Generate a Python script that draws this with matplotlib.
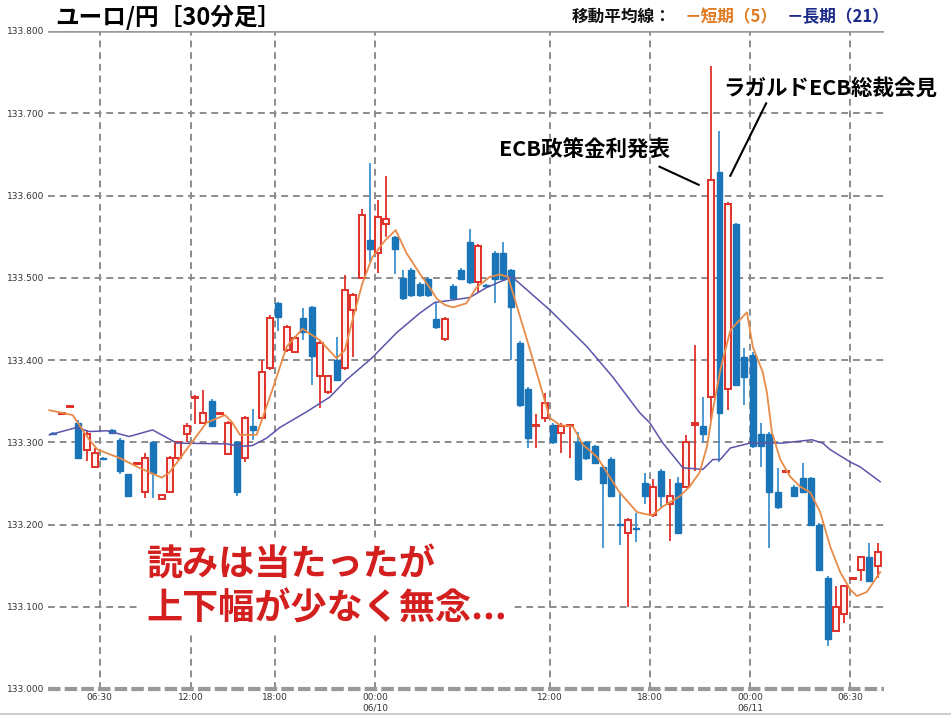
import matplotlib
matplotlib.use('Agg')
import matplotlib.pyplot as plt
from matplotlib.patches import Rectangle

plt.rcParams['font.family'] = ['Noto Sans CJK JP', 'DejaVu Sans']

# EUR/JPY 30-minute candles, oldest first
opens = [133.311, 133.334, 133.343, 133.324, 133.291, 133.270, 133.281, 133.315, 133.303, 133.261,
         133.274, 133.240, 133.300, 133.231, 133.240, 133.281, 133.310, 133.354, 133.324, 133.350,
         133.334, 133.286, 133.300, 133.281, 133.320, 133.330, 133.390, 133.469, 133.412, 133.410,
         133.451, 133.464, 133.380, 133.361, 133.400, 133.390, 133.461, 133.500, 133.546, 133.530,
         133.565, 133.549, 133.500, 133.510, 133.493, 133.499, 133.450, 133.425, 133.490, 133.510,
         133.544, 133.495, 133.491, 133.530, 133.530, 133.509, 133.421, 133.365, 133.320, 133.330,
         133.321, 133.311, 133.320, 133.300, 133.300, 133.295, 133.270, 133.280, 133.201, 133.190,
         133.196, 133.251, 133.211, 133.265, 133.225, 133.250, 133.246, 133.321, 133.320, 133.355,
         133.628, 133.365, 133.565, 133.404, 133.406, 133.310, 133.310, 133.240, 133.264, 133.246,
         133.256, 133.256, 133.200, 133.135, 133.071, 133.091, 133.134, 133.145, 133.160, 133.150]
highs = [133.312, 133.336, 133.345, 133.327, 133.315, 133.293, 133.282, 133.316, 133.305, 133.262,
         133.276, 133.287, 133.301, 133.237, 133.283, 133.302, 133.323, 133.357, 133.364, 133.352,
         133.336, 133.326, 133.302, 133.332, 133.340, 133.400, 133.455, 133.471, 133.442, 133.429,
         133.463, 133.466, 133.423, 133.382, 133.428, 133.503, 133.481, 133.584, 133.639, 133.594,
         133.624, 133.551, 133.509, 133.512, 133.495, 133.501, 133.470, 133.452, 133.492, 133.512,
         133.559, 133.541, 133.492, 133.532, 133.543, 133.511, 133.423, 133.367, 133.334, 133.360,
         133.323, 133.324, 133.322, 133.313, 133.302, 133.297, 133.272, 133.282, 133.239, 133.208,
         133.214, 133.263, 133.255, 133.267, 133.255, 133.258, 133.309, 133.418, 133.355, 133.758,
         133.679, 133.592, 133.567, 133.415, 133.410, 133.323, 133.312, 133.269, 133.266, 133.248,
         133.275, 133.258, 133.202, 133.137, 133.125, 133.127, 133.136, 133.162, 133.178, 133.178]
lows = [133.309, 133.333, 133.343, 133.280, 133.277, 133.269, 133.280, 133.310, 133.262, 133.234,
        133.273, 133.232, 133.232, 133.230, 133.238, 133.279, 133.300, 133.322, 133.322, 133.318,
        133.333, 133.284, 133.235, 133.276, 133.303, 133.328, 133.388, 133.435, 133.410, 133.408,
        133.424, 133.370, 133.342, 133.359, 133.374, 133.388, 133.404, 133.498, 133.519, 133.506,
        133.549, 133.505, 133.473, 133.477, 133.477, 133.477, 133.438, 133.423, 133.473, 133.497,
        133.493, 133.481, 133.489, 133.469, 133.497, 133.400, 133.343, 133.293, 133.293, 133.325,
        133.298, 133.287, 133.281, 133.253, 133.279, 133.273, 133.171, 133.233, 133.175, 133.100,
        133.179, 133.225, 133.209, 133.221, 133.180, 133.188, 133.244, 133.265, 133.300, 133.327,
        133.276, 133.339, 133.368, 133.345, 133.293, 133.270, 133.172, 133.219, 133.263, 133.234,
        133.238, 133.198, 133.143, 133.052, 133.069, 133.080, 133.133, 133.131, 133.130, 133.135]
closes = [133.310, 133.335, 133.344, 133.281, 133.310, 133.287, 133.280, 133.311, 133.265, 133.235,
          133.275, 133.281, 133.263, 133.236, 133.281, 133.300, 133.320, 133.355, 133.335, 133.320,
          133.335, 133.324, 133.240, 133.330, 133.315, 133.385, 133.451, 133.452, 133.440, 133.427,
          133.434, 133.405, 133.421, 133.380, 133.376, 133.485, 133.479, 133.576, 133.535, 133.574,
          133.571, 133.535, 133.475, 133.479, 133.479, 133.479, 133.440, 133.450, 133.475, 133.499,
          133.495, 133.539, 133.490, 133.499, 133.499, 133.465, 133.345, 133.305, 133.321, 133.348,
          133.300, 133.320, 133.321, 133.255, 133.281, 133.275, 133.250, 133.235, 133.200, 133.206,
          133.195, 133.235, 133.246, 133.235, 133.235, 133.190, 133.300, 133.324, 133.310, 133.619,
          133.336, 133.590, 133.370, 133.379, 133.295, 133.295, 133.240, 133.221, 133.265, 133.235,
          133.240, 133.200, 133.145, 133.061, 133.100, 133.125, 133.135, 133.160, 133.131, 133.166]

# moving averages (bar position, price)
ma5_pos = [-0.5, 2.3, 2.9, 4.3, 5.3, 7.9, 10.3, 13.0, 13.9, 15.1, 16.4, 18.4, 20.6, 21.4, 22.4,
           24.4, 26.3, 28.0, 29.9, 32.0, 34.0, 35.0, 35.9, 37.1, 38.3, 39.8, 41.1, 42.4, 44.0,
           45.2, 46.0, 47.0, 48.0, 49.6, 50.8, 52.4, 53.6, 54.6, 55.7, 56.9, 58.4, 59.6, 60.8,
           62.4, 63.6, 65.3, 66.8, 68.0, 70.1, 71.9, 73.2, 75.2, 76.4, 77.6, 78.5, 79.2, 80.1,
           81.3, 82.1, 83.3, 84.0, 85.2, 85.7, 86.3, 87.3, 88.5, 89.7, 90.9, 92.1, 93.3, 94.5,
           95.7, 96.5, 97.7, 99.3]
ma5_val = [133.339, 133.333, 133.324, 133.303, 133.291, 133.281, 133.269, 133.257, 133.263,
           133.279, 133.297, 133.324, 133.333, 133.325, 133.309, 133.309, 133.364, 133.416,
           133.438, 133.424, 133.402, 133.412, 133.448, 133.493, 133.525, 133.545, 133.558,
           133.530, 133.505, 133.488, 133.475, 133.467, 133.464, 133.469, 133.488, 133.501,
           133.504, 133.501, 133.464, 133.424, 133.372, 133.330, 133.321, 133.319, 133.297,
           133.282, 133.258, 133.239, 133.215, 133.211, 133.222, 133.234, 133.246, 133.263,
           133.295, 133.339, 133.388, 133.436, 133.445, 133.458, 133.416, 133.385, 133.360,
           133.312, 133.279, 133.258, 133.246, 133.239, 133.215, 133.173, 133.142, 133.121,
           133.113, 133.118, 133.142]
ma21_pos = [-0.5, 2.8, 4.3, 6.4, 9.1, 11.9, 14.8, 20.8, 22.4, 23.9, 25.6, 27.2, 30.4, 33.2,
            35.2, 38.2, 41.2, 44.0, 45.8, 48.0, 50.0, 52.0, 53.6, 55.1, 56.9, 59.6, 64.1, 67.2,
            70.4, 71.6, 73.2, 75.6, 78.0, 79.2, 80.1, 81.3, 83.7, 86.1, 87.6, 91.1, 92.4, 93.3,
            95.7, 96.9, 99.3]
ma21_val = [133.309, 133.318, 133.313, 133.314, 133.307, 133.315, 133.299, 133.298, 133.295,
            133.296, 133.305, 133.318, 133.337, 133.355, 133.376, 133.402, 133.433, 133.457,
            133.470, 133.473, 133.476, 133.488, 133.495, 133.501, 133.485, 133.461, 133.416,
            133.379, 133.336, 133.324, 133.299, 133.269, 133.267, 133.279, 133.279, 133.293,
            133.299, 133.299, 133.299, 133.303, 133.299, 133.291, 133.276, 133.270, 133.252]

tick_pos = [5.53, 16.55, 26.62, 38.64, 59.62, 71.63, 83.65, 95.67]
tick_labels = ['06:30', '12:00', '18:00', '00:00\n06/10', '12:00', '18:00', '00:00\n06/11', '06:30']
price_ticks = [133.0, 133.1, 133.2, 133.3, 133.4, 133.5, 133.6, 133.7, 133.8]

RED = '#e0302a'
BLUE = '#1a75b8'
BLUE_WICK = '#3b92cf'
GRID = '#8c8c8c'

fig = plt.figure(figsize=(9.51, 7.15), dpi=100)
ax = fig.add_axes([48 / 951, 26 / 715, 836 / 951, 658 / 715])
ax.set_xlim(-0.66, 99.76)
ax.set_ylim(133.0, 133.8)

# grid
for p in price_ticks[1:-1]:
    ax.axhline(p, color=GRID, lw=1.4, ls=(0, (3.5, 2.5)), zorder=1)
for t in tick_pos:
    ax.axvline(t, color=GRID, lw=1.4, ls=(0, (3.5, 2.5)), zorder=1)
ax.axhline(133.8, color='#999999', lw=1.8, zorder=1)
ax.axhline(133.0, color='#999999', lw=3, ls=(0, (3, 1)), zorder=1, clip_on=False)

for s in ax.spines.values():
    s.set_visible(False)

ax.set_xticks(tick_pos, tick_labels)
ax.set_yticks(price_ticks, ['%.3f' % p for p in price_ticks])
ax.tick_params(length=0, labelsize=6.5, colors='#333333', pad=3)
for lab in ax.get_xticklabels() + ax.get_yticklabels():
    lab.set_family('DejaVu Sans')

# candles
w = 0.72
for i in range(len(opens)):
    o, h, l, c = opens[i], highs[i], lows[i], closes[i]
    up = c >= o
    b0, b1 = min(o, c), max(o, c)
    hgt = max(b1 - b0, 0.0012)
    if up:
        ax.vlines(i, l, h, color=RED, lw=1.3, zorder=2)
        ax.add_patch(Rectangle((i - w / 2, b0), w, hgt, facecolor='#fff3f3',
                               edgecolor=RED, lw=1.4, zorder=3))
    else:
        ax.vlines(i, l, h, color=BLUE_WICK, lw=1.3, zorder=2)
        ax.add_patch(Rectangle((i - w / 2, b0), w, hgt, facecolor=BLUE,
                               edgecolor=BLUE, lw=1.0, zorder=3))

ax.plot(ma21_pos, ma21_val, color='#5a55aa', lw=1.1, zorder=4)
ax.plot(ma5_pos, ma5_val, color='#e88a48', lw=1.3, zorder=5)

# title and legend
fig.text(55 / 951, 1 - 17 / 715, 'ユーロ/円［30分足］', fontsize=17, fontweight='bold',
         va='center', ha='left')
fig.text(572 / 951, 1 - 17 / 715, '移動平均線：', fontsize=12, fontweight='bold',
         va='center', ha='left', color='#111111')
fig.text(685 / 951, 1 - 17 / 715, '－短期（5）', fontsize=12, fontweight='bold',
         va='center', ha='left', color='#e07b22')
fig.text(787 / 951, 1 - 17 / 715, '－長期（21）', fontsize=12, fontweight='bold',
         va='center', ha='left', color='#1c2a8a')

# event notes
ax.text(63.8, 133.655, 'ECB政策金利発表', fontsize=15.5, fontweight='bold',
        ha='center', va='center', zorder=6)
ax.plot([72.8, 77.5], [133.635, 133.613], color='black', lw=1.5, zorder=6)
ax.text(93.3, 133.730, 'ラガルドECB総裁会見', fontsize=15.5, fontweight='bold',
        ha='center', va='center', zorder=6, clip_on=False)
ax.plot([85.6, 81.3], [133.712, 133.624], color='black', lw=1.5, zorder=6)

ax.text(0.118, 0.217, '読みは当たったが\n上下幅が少なく無念...', transform=ax.transAxes,
        fontsize=26, fontweight='bold', color='#d41f1f', ha='left', va='top',
        linespacing=1.25, zorder=7,
        bbox=dict(facecolor='white', edgecolor='none', pad=4))

fig.add_artist(plt.Line2D([0, 1], [0.002, 0.002], color='#cccccc', lw=1.5))

fig.savefig('out.png', dpi=100)
